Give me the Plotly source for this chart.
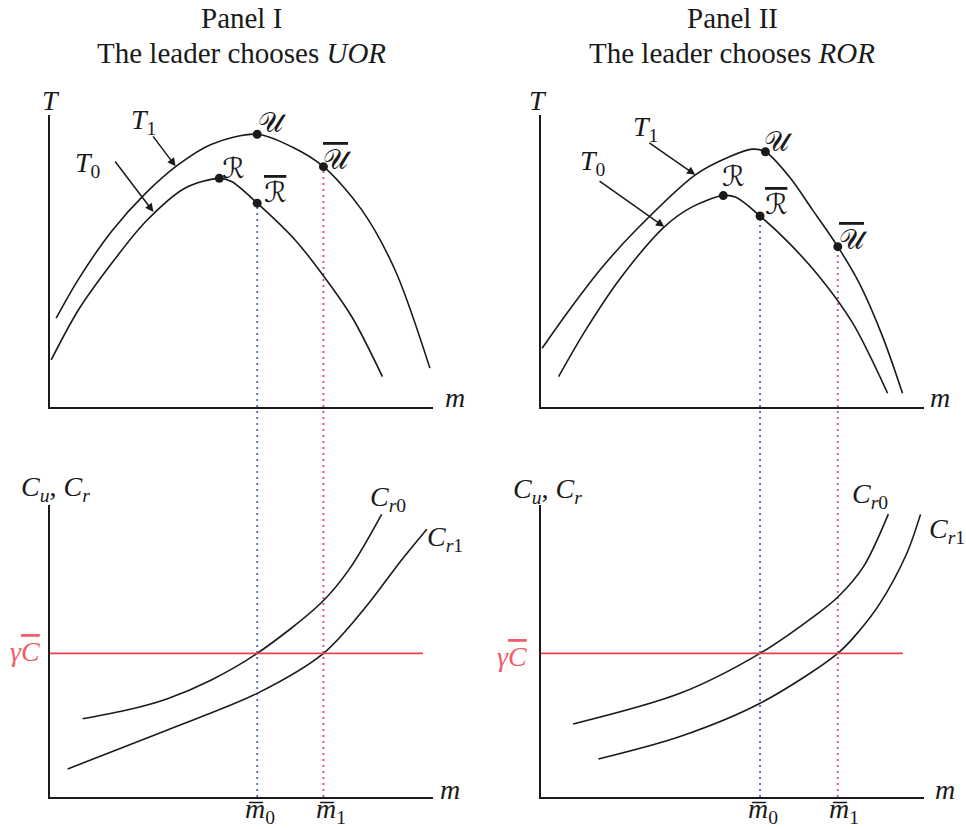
import plotly.graph_objects as go

# ---------------- data (schematic units: m and T/C on 0-100 scales) ----------------
# Panel I, upper: transfer curves
p1_T1_m = [1.6, 7.4, 16.1, 24.8, 33.5, 42.2, 54.1, 63.1, 71.4, 81.4, 90.1, 99.2]
p1_T1_T = [30.4, 43.7, 60.2, 73.0, 83.0, 90.0, 93.4, 89.1, 82.3, 67.5, 46.9, 13.3]
p1_T0_m = [0.3, 7.4, 16.1, 25.0, 35.2, 44.2, 47.4, 54.1, 64.0, 70.9, 78.8, 86.8]
p1_T0_T = [16.1, 33.2, 49.2, 63.5, 74.9, 78.3, 77.2, 69.8, 57.2, 45.8, 30.9, 10.4]
# key points U, U-bar, R, R-bar
p1_pts_m = [54.1, 71.4, 44.2, 54.1]
p1_pts_T = [93.4, 82.3, 78.3, 69.8]
p1_mbar = [54.1, 71.4]

# Panel I, lower: cost curves
p1_Cr0_m = [8.5, 19.5, 30.5, 42.0, 54.1, 70.9, 78.3, 86.6]
p1_Cr0_C = [26.8, 29.6, 33.6, 40.0, 49.2, 66.6, 78.3, 96.8]
p1_Cr1_m = [4.6, 30.5, 54.1, 71.4, 82.7, 91.4, 98.4]
p1_Cr1_C = [9.6, 22.9, 35.5, 49.2, 65.5, 80.5, 91.7]
p1_gC_m = [0.0, 97.4]

# Panel II, upper
p2_T1_m = [0.3, 7.4, 16.1, 24.8, 40.3, 49.2, 55.3, 58.6, 64.8, 70.9, 77.5, 83.1, 89.2, 94.4]
p2_T1_T = [20.1, 33.2, 48.0, 60.6, 79.5, 85.7, 88.3, 87.4, 78.9, 67.5, 54.9, 42.4, 24.1, 4.7]
p2_T0_m = [4.6, 11.7, 20.4, 32.2, 39.6, 47.6, 50.9, 57.2, 64.8, 72.7, 81.4, 90.5]
p2_T0_T = [10.4, 26.4, 43.5, 61.7, 68.6, 72.4, 71.8, 65.4, 56.1, 44.6, 28.7, 4.7]
p2_pts_m = [58.6, 77.5, 47.6, 57.2]
p2_pts_T = [87.4, 54.9, 72.4, 65.4]
p2_mbar = [57.2, 77.5]

# Panel II, lower
p2_Cr0_m = [8.4, 36.3, 57.2, 71.1, 77.6, 84.2, 90.7]
p2_Cr0_C = [25.0, 35.5, 49.2, 61.7, 68.6, 78.9, 96.9]
p2_Cr1_m = [15.0, 36.3, 57.2, 77.5, 83.3, 88.5, 95.5, 99.1]
p2_Cr1_C = [13.0, 20.7, 32.1, 49.2, 57.2, 66.3, 83.4, 96.8]
p2_gC_m = [0.0, 94.5]

gamma_C = 49.2

# ---------------- styling ----------------
FONT = "Liberation Serif, DejaVu Serif, DejaVu Sans, serif"
INK = "#1a1a1a"
RED = "#e8404c"
RED_TXT = "#f25c68"
BLUE = "#4a66c8"
PINK_1 = "#f0329a"
PINK_2 = "#c84ab8"

XDOM_L = [0.0518, 0.4482]
XDOM_R = [0.5600, 0.9565]
YDOM_T = [0.5091, 0.8613]
YDOM_B = [0.0386, 0.3908]

fig = go.Figure()


def curve(xs, ys, xa, ya, color=INK, width=1.6, shape="spline"):
    fig.add_trace(go.Scatter(x=xs, y=ys, xaxis=xa, yaxis=ya, mode="lines",
                             line=dict(color=color, width=width, shape=shape, smoothing=0.9),
                             hoverinfo="skip", showlegend=False))


def dots(xs, ys, xa, ya):
    fig.add_trace(go.Scatter(x=xs, y=ys, xaxis=xa, yaxis=ya, mode="markers",
                             marker=dict(color=INK, size=9), cliponaxis=False,
                             hoverinfo="skip", showlegend=False))


# upper panels
curve(p1_T1_m, p1_T1_T, "x", "y")
curve(p1_T0_m, p1_T0_T, "x", "y")
curve(p2_T1_m, p2_T1_T, "x2", "y2")
curve(p2_T0_m, p2_T0_T, "x2", "y2")

# lower panels
curve(p1_Cr0_m, p1_Cr0_C, "x3", "y3")
curve(p1_Cr1_m, p1_Cr1_C, "x3", "y3")
curve(p1_gC_m, [gamma_C] * 2, "x3", "y3", color=RED, width=1.6, shape="linear")
curve(p2_Cr0_m, p2_Cr0_C, "x4", "y4")
curve(p2_Cr1_m, p2_Cr1_C, "x4", "y4")
curve(p2_gC_m, [gamma_C] * 2, "x4", "y4", color=RED, width=1.6, shape="linear")


def to_paper(v, dom):
    return dom[0] + v / 100.0 * (dom[1] - dom[0])


# dotted drop lines from the upper points down to the lower m axis
shapes = []
for xref, mb, top_T, cols in [
    ("x", p1_mbar, [p1_pts_T[3], p1_pts_T[1]], [BLUE, PINK_1]),
    ("x2", p2_mbar, [p2_pts_T[3], p2_pts_T[1]], [BLUE, PINK_2]),
]:
    for xv, tv, col in zip(mb, top_T, cols):
        shapes.append(dict(type="line", xref=xref, yref="paper",
                           x0=xv, x1=xv, y0=YDOM_B[0], y1=to_paper(tv, YDOM_T),
                           line=dict(color=col, width=1.8, dash="2px,4px"), layer="below"))

dots(p1_pts_m, p1_pts_T, "x", "y")
dots(p2_pts_m, p2_pts_T, "x2", "y2")

# ---------------- text ----------------
ann = []
PANELS = {"TL": (XDOM_L, YDOM_T), "TR": (XDOM_R, YDOM_T),
          "BL": (XDOM_L, YDOM_B), "BR": (XDOM_R, YDOM_B)}


def lab(text, x, y, panel, size=28, color=INK, xanchor="center", yanchor="middle", xshift=0):
    xd, yd = PANELS[panel]
    ann.append(dict(text=text, x=to_paper(x, xd), y=to_paper(y, yd), xref="paper", yref="paper",
                    showarrow=False, font=dict(family=FONT, size=size, color=color),
                    xanchor=xanchor, yanchor=yanchor, xshift=xshift))


def mbar_lab(sub, x, xref, xshift):
    # m-bar labels hang just below the lower m axis
    ann.append(dict(text="<i>m\u0305</i><sub>" + sub + "</sub>",
                    x=x, y=0.0, xref=xref, yref="paper", showarrow=False,
                    xanchor="center", yanchor="bottom", borderpad=0, xshift=xshift,
                    font=dict(family=FONT, size=28, color=INK)))


def arrow(x0, y0, x1, y1, xref, yref):
    ann.append(dict(text="", x=x1, y=y1, ax=x0, ay=y0, xref=xref, yref=yref,
                    axref=xref, ayref=yref, showarrow=True, arrowhead=2,
                    arrowsize=1.1, arrowwidth=1.5, arrowcolor=INK, standoff=0))


def ov(s):
    return '<span style="text-decoration:overline">' + s + '</span>'


U = "𝒰"
R = "ℛ"

# titles
for xd, word, choice in [(XDOM_L, "I", "UOR"), (XDOM_R, "II", "ROR")]:
    xc = (xd[0] + xd[1]) / 2
    ann.append(dict(text="Panel " + word, x=xc, y=0.978, xref="paper", yref="paper",
                    xanchor="center", yanchor="middle", showarrow=False,
                    font=dict(family=FONT, size=29, color=INK)))
    ann.append(dict(text="The leader chooses <i>" + choice + "</i>", x=xc, y=0.936,
                    xref="paper", yref="paper", xanchor="center", yanchor="middle",
                    showarrow=False, font=dict(family=FONT, size=29, color=INK)))

# upper-left labels
lab("<i>T</i>", 0.3, 105.1, "TL")
lab("<i>m</i>", 105.7, 3.1, "TL")
lab("<i>T</i><sub>1</sub>", 24.3, 97.6, "TL")
lab("<i>T</i><sub>0</sub>", 9.9, 82.9, "TL")
arrow(26.6, 93.2, 32.8, 82.4, "x", "y")
arrow(16.7, 84.6, 27.0, 66.8, "x", "y")
lab(U, 58.0, 97.3, "TL")
lab(ov(U), 75.2, 84.6, "TL")
lab(R, 47.8, 81.8, "TL")
lab(ov(R), 58.7, 73.3, "TL")

# upper-right labels
lab("<i>T</i>", -0.8, 105.1, "TR")
lab("<i>m</i>", 104.2, 3.1, "TR")
lab("<i>T</i><sub>1</sub>", 27.2, 95.5, "TR")
lab("<i>T</i><sub>0</sub>", 13.6, 83.6, "TR")
arrow(27.9, 90.8, 40.3, 79.5, "x2", "y2")
arrow(14.9, 77.7, 32.2, 61.7, "x2", "y2")
lab(U, 61.9, 90.8, "TR")
lab(ov(U), 81.5, 57.2, "TR")
lab(R, 50.1, 78.8, "TR")
lab(ov(R), 61.4, 69.2, "TR")

# lower-left labels
lab("<i>C</i><sub><i>u</i></sub>, <i>C</i><sub><i>r</i></sub>", 1.3, 105.8, "BL")
lab("<i>m</i>", 104.4, 2.4, "BL")
lab("<i>C</i><sub><i>r</i>0</sub>", 88.3, 102.4, "BL")
lab("<i>C</i><sub><i>r</i>1</sub>", 103.1, 88.7, "BL")
lab("<i>γ</i>" + ov("<i>C</i>"), -6.5, gamma_C + 0.8, "BL", color=RED_TXT)
mbar_lab("0", p1_mbar[0], "x3", 3)
mbar_lab("1", p1_mbar[1], "x3", 8)

# lower-right labels
lab("<i>C</i><sub><i>u</i></sub>, <i>C</i><sub><i>r</i></sub>", 1.6, 105.1, "BR")
lab("<i>m</i>", 105.5, 2.4, "BR")
lab("<i>C</i><sub><i>r</i>0</sub>", 85.9, 103.4, "BR")
lab("<i>C</i><sub><i>r</i>1</sub>", 106.0, 91.4, "BR")
lab("<i>γ</i>" + ov("<i>C</i>"), -7.6, gamma_C - 1.0, "BR", color=RED_TXT)
mbar_lab("0", p2_mbar[0], "x4", 3)
mbar_lab("1", p2_mbar[1], "x4", 6)


# ---------------- axes ----------------
def ax(domain, anchor):
    return dict(domain=domain, anchor=anchor, range=[0, 100], showline=True, linewidth=2,
                linecolor=INK, showticklabels=False, ticks="", showgrid=False,
                zeroline=False, fixedrange=True)


fig.update_layout(
    width=966, height=829,
    margin=dict(l=0, r=0, t=0, b=0),
    paper_bgcolor="white", plot_bgcolor="rgba(0,0,0,0)",
    showlegend=False,
    xaxis=ax(XDOM_L, "y"), yaxis=ax(YDOM_T, "x"),
    xaxis2=ax(XDOM_R, "y2"), yaxis2=ax(YDOM_T, "x2"),
    xaxis3=ax(XDOM_L, "y3"), yaxis3=ax(YDOM_B, "x3"),
    xaxis4=ax(XDOM_R, "y4"), yaxis4=ax(YDOM_B, "x4"),
    shapes=shapes, annotations=ann,
)

fig.write_html("out.html")
